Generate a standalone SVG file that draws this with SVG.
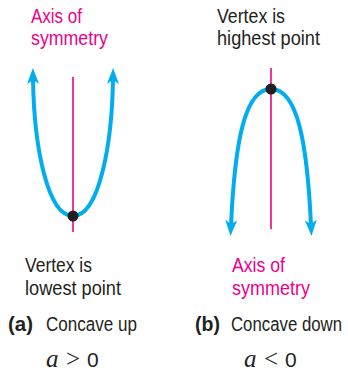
<svg xmlns="http://www.w3.org/2000/svg" width="348" height="373" viewBox="0 0 348 373">
<style>
.lbl{font-family:"Liberation Sans",Arial,sans-serif;font-size:19.5px;fill:#231F20}
.pink{fill:#EC008C}
.bold{font-weight:bold}
.axis{stroke:#EC008C;stroke-width:1.6;fill:none}
.curve{stroke:#00AEEF;stroke-width:4;fill:none}
.dot{fill:#231F20}
.math{font-family:"Liberation Serif","Times New Roman",serif;font-size:25px;fill:#231F20}
.mi{font-style:italic}
.num{font-family:"Liberation Sans",Arial,sans-serif;font-size:21px;fill:#231F20}
</style>
<defs>
<marker id="arr" viewBox="0 0 16 12" markerWidth="16" markerHeight="12" refX="5" refY="6" orient="auto-start-reverse" markerUnits="userSpaceOnUse">
<path d="M0,0 L16,6 L0,12 L4,6 Z" fill="#00AEEF"/>
</marker>
</defs>
<g id="connectors">
<line class="axis" x1="73" y1="77" x2="73" y2="232"/>
<line class="axis" x1="271" y1="68" x2="271" y2="229"/>
</g>
<g id="parabola-up">
<path class="curve" d="M33,79 C34,145 47,216 73,216 C99,216 112,145 113,79" marker-start="url(#arr)" marker-end="url(#arr)"/>
<circle class="dot" cx="73" cy="216" r="5.5"/>
</g>
<g id="parabola-down">
<path class="curve" d="M231,225 C235,140 245,89 271,89 C297,89 307,140 311,225" marker-start="url(#arr)" marker-end="url(#arr)"/>
<circle class="dot" cx="271" cy="89" r="5.5"/>
</g>
<g id="label-axis-a">
<text class="lbl pink" x="31" y="23" textLength="51" lengthAdjust="spacingAndGlyphs">Axis of</text>
<text class="lbl pink" x="31" y="45" textLength="77" lengthAdjust="spacingAndGlyphs">symmetry</text>
</g>
<g id="label-vertex-b">
<text class="lbl" x="217" y="23" textLength="68" lengthAdjust="spacingAndGlyphs">Vertex is</text>
<text class="lbl" x="217" y="45" textLength="103" lengthAdjust="spacingAndGlyphs">highest point</text>
</g>
<g id="label-vertex-a">
<text class="lbl" x="25" y="272" textLength="67" lengthAdjust="spacingAndGlyphs">Vertex is</text>
<text class="lbl" x="25" y="295" textLength="96" lengthAdjust="spacingAndGlyphs">lowest point</text>
</g>
<g id="label-axis-b">
<text class="lbl pink" x="232" y="272" textLength="53" lengthAdjust="spacingAndGlyphs">Axis of</text>
<text class="lbl pink" x="232" y="295" textLength="78" lengthAdjust="spacingAndGlyphs">symmetry</text>
</g>
<g id="caption-a">
<text class="lbl bold" x="8" y="331" textLength="25" lengthAdjust="spacingAndGlyphs">(a)</text>
<text class="lbl" x="46" y="331" textLength="91" lengthAdjust="spacingAndGlyphs">Concave up</text>
<text class="math mi" x="46" y="367">a</text>
<text class="math" x="66" y="367">&gt;</text>
<text class="num" x="87" y="367">0</text>
</g>
<g id="caption-b">
<text class="lbl bold" x="195" y="331" textLength="25" lengthAdjust="spacingAndGlyphs">(b)</text>
<text class="lbl" transform="translate(231,331) scale(1,1.15)" x="0" y="0" style="font-size:17px" textLength="111" lengthAdjust="spacingAndGlyphs">Concave down</text>
<text class="math mi" x="244" y="367">a</text>
<text class="math" x="264" y="367">&lt;</text>
<text class="num" x="285" y="367">0</text>
</g>
</svg>
